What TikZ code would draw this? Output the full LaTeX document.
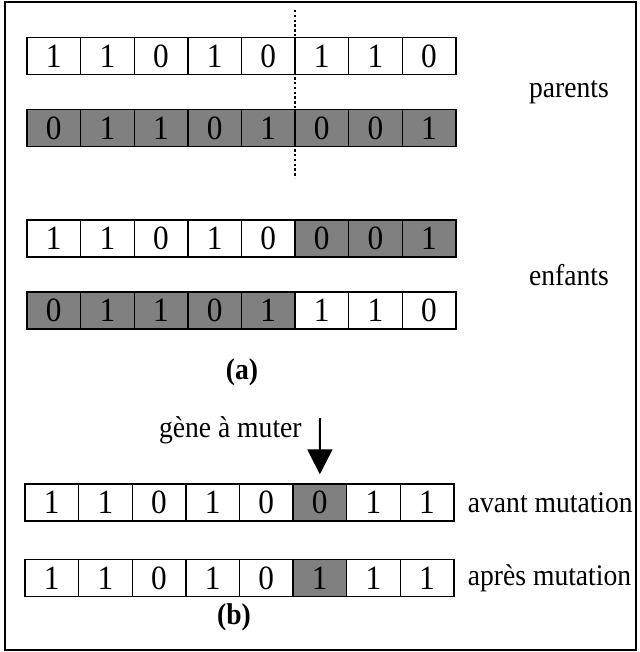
\documentclass[tikz,border=0pt]{standalone}
\usepackage{fontspec}
\setmainfont[FakeStretch=0.92]{Liberation Serif}
\usetikzlibrary{positioning,arrows.meta}
\definecolor{genegray}{RGB}{128,128,128}
\tikzset{font=\fontsize{15pt}{18pt}\selectfont}

\begin{document}
\begin{tikzpicture}[x=0.5pt, y=-0.5pt,
	gene/.style={draw, line width=0.7pt, fill=white, inner sep=0pt,
		minimum width=26.8pt, minimum height=18.5pt,
		font=\fontsize{17pt}{20pt}\selectfont},
	dark/.style={gene, fill=genegray},
	txt/.style={inner sep=0pt}]
	\useasboundingbox (0,0) rectangle (640,652);
	\draw[line width=1.2pt] (5,2) rectangle (636,650);

	% (a) croisement
	\foreach \b [count=\i] in {1,1,0,1,0,1,1,0}
		\node[gene] (r1c\i) at ({27+53.6*(\i-0.5)},56) {\b};
	\foreach \b [count=\i] in {0,1,1,0,1,0,0,1}
		\node[dark] (r2c\i) at ({27+53.6*(\i-0.5)},128) {\b};
	\foreach \b/\s [count=\i] in {1/gene,1/gene,0/gene,1/gene,0/gene,0/dark,0/dark,1/dark}
		\node[\s] (r3c\i) at ({27+53.6*(\i-0.5)},238.5) {\b};
	\foreach \b/\s [count=\i] in {0/dark,1/dark,1/dark,0/dark,1/dark,1/gene,1/gene,0/gene}
		\node[\s] (r4c\i) at ({27+53.6*(\i-0.5)},310.5) {\b};

	\coordinate (cuttop) at (295,10);
	\coordinate (cutbot) at (295,178);
	\draw[line width=0.6pt, dash pattern=on 1.2pt off 1.2pt] (cuttop) -- (cutbot);

	\node[txt] (parents) at (569,92) {parents};
	\node[txt] (enfants) at (569,275) {enfants};
	\node[txt] (capa) at (242,372) {\textbf{(a)}};

	% (b) mutation
	\foreach \b/\s [count=\i] in {1/gene,1/gene,0/gene,1/gene,0/gene,0/dark,1/gene,1/gene}
		\node[\s] (r5c\i) at ({25+53.6*(\i-0.5)},502.5) {\b};
	\foreach \b/\s [count=\i] in {1/gene,1/gene,0/gene,1/gene,0/gene,1/dark,1/gene,1/gene}
		\node[\s] (r6c\i) at ({25+53.6*(\i-0.5)},578) {\b};

	\coordinate (arrtop) at (320,418);
	\draw[line width=1pt, -{Triangle[length=12.5pt, width=12.5pt]}, shorten >=4.5pt]
		(arrtop) -- (r5c6.north);
	\node[txt, anchor=east] (mutlbl) at (302,430) {gène à muter};

	\node[txt, anchor=west, right=6.5pt of r5c8] (avant) {avant mutation};
	\node[txt, anchor=west, right=6.5pt of r6c8] (apres) {après mutation};
	\node[txt] (capb) at (234,617) {\textbf{(b)}};
\end{tikzpicture}
\end{document}
